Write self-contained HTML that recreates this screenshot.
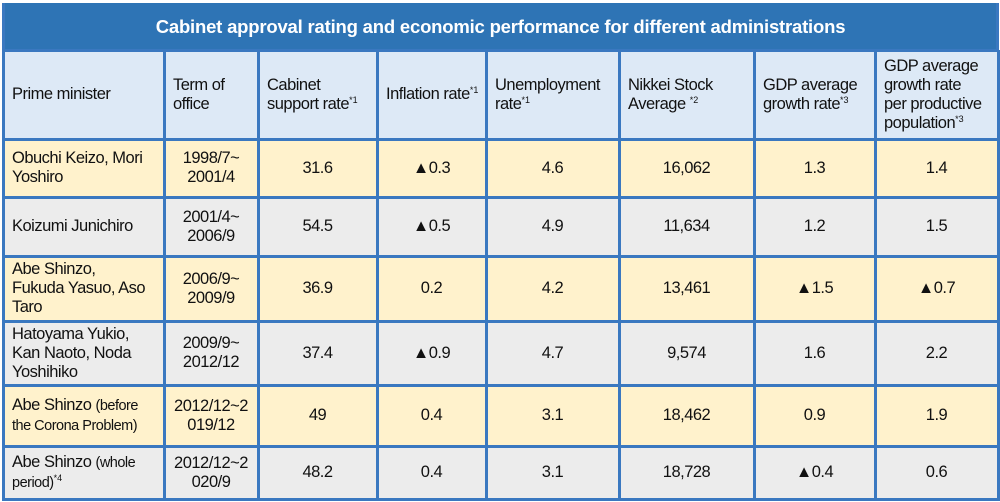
<!DOCTYPE html>
<html><head><meta charset="utf-8"><style>
body{margin:0;width:1000px;height:502px;background:#fff;position:relative;overflow:hidden;font-family:"Liberation Sans",Arial,sans-serif;color:#111}
.c{position:absolute;box-sizing:border-box;display:flex;align-items:center;font-size:16.5px;line-height:19px;padding-left:9px;padding-right:12px;letter-spacing:-0.5px}
.n{justify-content:center;padding-left:0;padding-right:0;text-align:center}
.h{background:#dde9f6}
.y{background:#fff2cc}
.g{background:#ececec}
.vl{position:absolute;background:#3a78c0;width:3px}
.hl{position:absolute;background:#3a78c0;height:3px;left:3px;width:995px}
sup{font-size:9px;vertical-align:6px;line-height:0;letter-spacing:0}
.s{font-size:14.5px}
#t{position:absolute;left:3px;top:3px;width:995px;height:48px;background:#2e74b5;color:#fff;font-weight:bold;font-size:18.5px;letter-spacing:-0.2px;display:flex;align-items:center;justify-content:center}
</style></head><body>
<div id="t">Cabinet approval rating and economic performance for different administrations</div>
<div id="cells"></div>
<script>
const xs=[3,164,258,377,486,619,754,875,998];
const ys=[50,139,197,256,321,385,446,499];
const rows=[
["h",["Prime minister","Term of office","Cabinet support rate<sup>*1</sup>","<span style='white-space:nowrap'>Inflation rate<sup>*1</sup></span>","Unemployment rate<sup>*1</sup>","Nikkei Stock Average <sup>*2</sup>","GDP average growth rate<sup>*3</sup>","GDP average growth rate per productive population<sup>*3</sup>"]],
["y",["Obuchi Keizo, Mori Yoshiro","1998/7~<br>2001/4","31.6","▲0.3","4.6","16,062","1.3","1.4"]],
["g",["Koizumi Junichiro","2001/4~<br>2006/9","54.5","▲0.5","4.9","11,634","1.2","1.5"]],
["y",["Abe Shinzo, Fukuda Yasuo, Aso Taro","2006/9~<br>2009/9","36.9","0.2","4.2","13,461","▲1.5","▲0.7"]],
["g",["Hatoyama Yukio, Kan Naoto, Noda Yoshihiko","2009/9~<br>2012/12","37.4","▲0.9","4.7","9,574","1.6","2.2"]],
["y",["Abe Shinzo <span class=s>(before the Corona Problem)</span>","2012/12~2<br>019/12","49","0.4","3.1","18,462","0.9","1.9"]],
["g",["Abe Shinzo <span class=s>(whole period)</span><sup>*4</sup>","2012/12~2<br>020/9","48.2","0.4","3.1","18,728","▲0.4","0.6"]]
];
const bk={0:[null,null,"Cabinet<br>support rate<sup>*1</sup>",null,null,null,null,"GDP average<br>growth rate<br>per productive<br>population<sup>*3</sup>"],1:["Obuchi Keizo, Mori<br>Yoshiro"],3:["Abe Shinzo,<br>Fukuda Yasuo, Aso<br>Taro"],4:["Hatoyama Yukio,<br>Kan Naoto, Noda<br>Yoshihiko"],5:["Abe Shinzo <span class=s>(before<br>the Corona Problem)</span>"],6:["Abe Shinzo <span class=s>(whole<br>period)</span><sup>*4</sup>"]};
let h="";
rows.forEach((r,i)=>{r[1].forEach((txt,j)=>{
 const num=i>0&&j>0;
 if(bk[i]&&bk[i][j])txt=bk[i][j];
 h+=`<div class="c ${r[0]} ${num?'n':''}" style="left:${xs[j]}px;top:${ys[i]}px;width:${xs[j+1]-xs[j]}px;height:${ys[i+1]-ys[i]}px"><div>${txt}</div></div>`;
});});
xs.forEach(x=>h+=`<div class="vl" style="left:${x-1}px;top:50px;height:451px"></div>`);
ys.forEach(y=>h+=`<div class="hl" style="top:${y-1}px"></div>`);
h+=`<div class="vl" style="left:2px;top:3px;height:48px"></div><div class="vl" style="left:996px;top:3px;height:48px"></div>`;
document.getElementById("cells").innerHTML=h;
</script>
</body></html>
